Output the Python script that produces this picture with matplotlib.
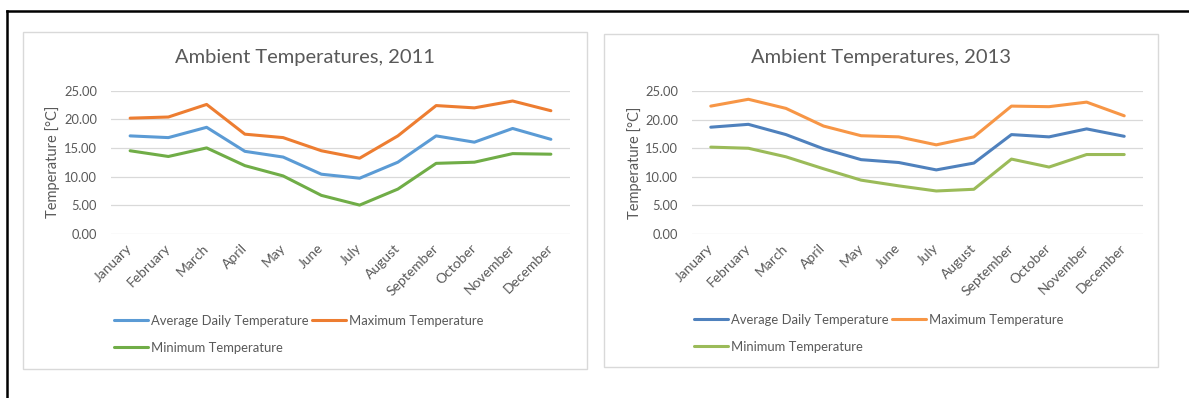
import matplotlib
matplotlib.use("Agg")
import matplotlib.pyplot as plt
from matplotlib.patches import Rectangle
from matplotlib.lines import Line2D

plt.rcParams["font.family"] = ["Lato", "DejaVu Sans"]

months = ["January", "February", "March", "April", "May", "June",
          "July", "August", "September", "October", "November", "December"]

# 2011 monthly temperatures [°C]
avg_2011 = [17.1, 16.8, 18.6, 14.4, 13.4, 10.4, 9.7, 12.5, 17.1, 16.0, 18.4, 16.5]
max_2011 = [20.2, 20.4, 22.6, 17.4, 16.8, 14.5, 13.2, 17.1, 22.4, 22.0, 23.2, 21.5]
min_2011 = [14.5, 13.5, 15.0, 11.9, 10.1, 6.7, 5.0, 7.8, 12.3, 12.5, 14.0, 13.9]

# 2013 monthly temperatures [°C]
avg_2013 = [18.7, 19.2, 17.4, 14.9, 13.0, 12.5, 11.2, 12.4, 17.4, 17.0, 18.4, 17.1]
max_2013 = [22.4, 23.6, 22.0, 18.9, 17.2, 17.0, 15.6, 17.0, 22.4, 22.3, 23.1, 20.7]
min_2013 = [15.2, 15.0, 13.5, 11.4, 9.4, 8.4, 7.5, 7.8, 13.1, 11.7, 13.9, 13.9]

yticks = [0, 5, 10, 15, 20, 25]

W, H = 1189, 398
GRAY_TXT = "#595959"
GRID = "#D9D9D9"

fig = plt.figure(figsize=(W / 100, H / 100), dpi=100)


def px_rect(x0, y0, x1, y1):
    # pixel box (top-left origin) -> figure fraction [left, bottom, width, height]
    return [x0 / W, (H - y1) / H, (x1 - x0) / W, (y1 - y0) / H]


def draw_panel(panel, plot_box, title, series, colors, legend_xy):
    # light grey chart frame
    l, b, w, h = px_rect(*panel)
    fig.add_artist(Rectangle((l, b), w, h, transform=fig.transFigure,
                             fill=False, edgecolor=GRID, lw=1.0))
    fig.text(l + w / 2, (H - 58) / H, title, ha="center", va="center",
             fontsize=14.5, color=GRAY_TXT)

    ax = fig.add_axes(px_rect(*plot_box))
    x = range(len(months))
    lines = []
    for (label, vals), c in zip(series, colors):
        ln, = ax.plot(x, vals, color=c, lw=2.2, label=label,
                      solid_capstyle="round", solid_joinstyle="round")
        lines.append(ln)

    ax.set_xlim(-0.5, len(months) - 0.5)
    ax.set_ylim(0, 25)
    ax.set_yticks(yticks)
    ax.set_yticklabels([f"{v:.2f}" for v in yticks])
    ax.set_xticks(list(x))
    ax.set_xticklabels(months, rotation=45, ha="right", va="center",
                       rotation_mode="anchor")
    ax.grid(axis="y", color=GRID, lw=0.9)
    ax.set_axisbelow(True)
    for s in ax.spines.values():
        s.set_visible(False)
    ax.tick_params(axis="both", length=0, colors=GRAY_TXT, labelsize=9.3)
    ax.tick_params(axis="y", pad=10)
    ax.tick_params(axis="x", pad=9, labelsize=10)

    ax.set_ylabel("Temperature [°C]", color=GRAY_TXT, fontsize=10.5, va="center")
    ax.yaxis.set_label_coords(-0.127, 0.5)

    # row-wise legend: Avg, Max on the first row, Min on the second
    order = [lines[0], lines[2], lines[1]]
    fig.legend(handles=order, labels=[ln.get_label() for ln in order],
               ncol=2, frameon=False, loc="upper left",
               bbox_to_anchor=(legend_xy[0] / W, (H - legend_xy[1]) / H),
               borderaxespad=0, borderpad=0, fontsize=9.4, labelcolor=GRAY_TXT,
               handlelength=2.6, handletextpad=0.2, columnspacing=0.3,
               labelspacing=1.15)
    return ax


draw_panel((23, 32, 587, 369), (111, 90.7, 570, 233.7),
           "Ambient Temperatures, 2011",
           [("Average Daily Temperature", avg_2011),
            ("Maximum Temperature", max_2011),
            ("Minimum Temperature", min_2011)],
           ["#5B9BD5", "#ED7D31", "#70AD47"], (114, 315))

draw_panel((604, 34, 1158, 367), (692, 91.3, 1143, 233.7),
           "Ambient Temperatures, 2013",
           [("Average Daily Temperature", avg_2013),
            ("Maximum Temperature", max_2013),
            ("Minimum Temperature", min_2013)],
           ["#4F81BD", "#F79646", "#9BBB59"], (694, 314))

# black page frame along the top and left edges
fig.add_artist(Line2D([7 / W, 1], [(H - 11) / H] * 2, transform=fig.transFigure,
                      color="black", lw=1.8))
fig.add_artist(Line2D([7 / W] * 2, [0, (H - 11) / H], transform=fig.transFigure,
                      color="black", lw=1.8))

fig.savefig("out.png", dpi=100)
